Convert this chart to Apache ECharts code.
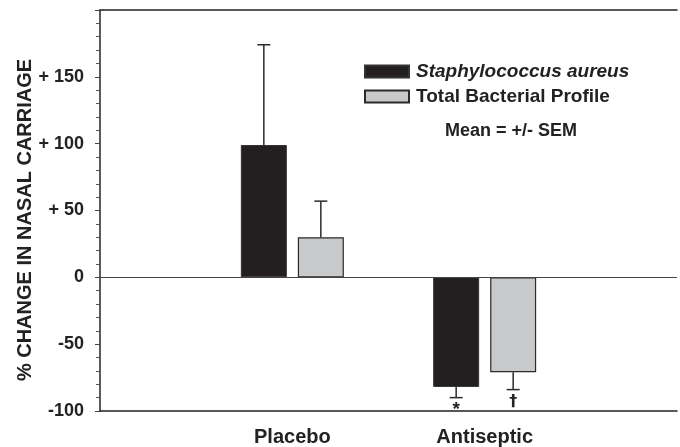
<!DOCTYPE html>
<html>
<head>
<meta charset="utf-8">
<script src="https://cdn.jsdelivr.net/npm/echarts@6/dist/echarts.min.js"></script>
<style>html,body{margin:0;padding:0;background:#fff;}#c{width:680px;height:447px;}</style>
</head>
<body>
<div id="c"></div>
<script>
var categories = ['', 'Placebo', 'Antiseptic', ''];
var staphValues = ['-', 99, -82, '-'];
var totalValues = ['-', 30, -71, '-'];
var staphErrEnd = [null, 174, -90, null];
var totalErrEnd = [null, 57, -84, null];
var staphMarks = ['', '', '*', ''];
var totalMarks = ['', '', '\u2020', ''];
var yTicks = [-100, -50, 0, 50, 100, 150];

var FONT = 'Liberation Sans, Arial, sans-serif';
var BAR_W = 46, BAR_GAP = 11;
var OFFSET = (BAR_W + BAR_GAP) / 2;

function errSeries(name, ends, marks, dx, baseVals) {
  return {
    type: 'custom', name: name + '_err', silent: true, z: 5,
    data: ends.map(function (v, i) { return v == null ? null : [i, v]; }).filter(function (d) { return d; }),
    renderItem: function (params, api) {
      var i = api.value(0), v = api.value(1);
      var p0 = api.coord([i, baseVals[i]]);
      var p1 = api.coord([i, v]);
      var x = p0[0] + dx;
      var children = [
        { type: 'line', shape: { x1: x, y1: p0[1], x2: x, y2: p1[1] }, style: { stroke: '#2a2a2a', lineWidth: 1.5 } },
        { type: 'line', shape: { x1: x - 6.5, y1: p1[1], x2: x + 6.5, y2: p1[1] }, style: { stroke: '#2a2a2a', lineWidth: 1.5 } }
      ];
      var m = marks[i];
      if (m === '*') {
        children.push({ type: 'text', x: x, y: p1[1] + 3, style: { text: m, font: 'bold 19px ' + FONT, fill: '#222', align: 'center', verticalAlign: 'top' } });
      } else if (m) {
        children.push({ type: 'text', x: x, y: p1[1] + 12, style: { text: m, font: 'bold 16px "DejaVu Sans", sans-serif', fill: '#222', align: 'center', verticalAlign: 'middle' } });
      }
      return { type: 'group', children: children };
    }
  };
}

var chart = echarts.init(document.getElementById('c'), null, { renderer: 'canvas' });
chart.setOption({
  animation: false,
  backgroundColor: '#fff',
  grid: { left: 100, right: 0, top: 10, bottom: 36 },
  legend: {
    orient: 'vertical', left: 359, top: 57, itemWidth: 44, itemHeight: 12, itemGap: 6,
    selectedMode: false, icon: 'rect',
    data: ['Staphylococcus aureus', 'Total Bacterial Profile'],
    formatter: function (n) { return n === 'Staphylococcus aureus' ? '{i|' + n + '}' : n; },
    textStyle: {
      fontFamily: FONT, fontWeight: 'bold', fontSize: 19, color: '#222', padding: [0, 0, 0, 2],
      rich: { i: { fontStyle: 'italic', fontWeight: 'bold', fontSize: 19, fontFamily: FONT, color: '#222' } }
    }
  },
  graphic: [{
    type: 'text', x: 511, y: 131,
    style: { text: 'Mean = +/- SEM', font: 'bold 18px ' + FONT, fill: '#222', align: 'center', verticalAlign: 'middle' }
  }, {
    type: 'text', x: 25, y: 220, rotation: Math.PI / 2,
    style: { text: '% CHANGE IN NASAL CARRIAGE', font: 'bold 20px ' + FONT, fill: '#222', align: 'center', verticalAlign: 'middle' }
  }],
  xAxis: [{
    type: 'category', data: categories, boundaryGap: false,
    axisLine: { onZero: false, lineStyle: { color: '#222', width: 1.5 } },
    axisTick: { show: false },
    axisLabel: { margin: 16, fontFamily: FONT, fontWeight: 'bold', fontSize: 20, color: '#222', interval: 0 }
  }, {
    type: 'category', data: categories, boundaryGap: false, position: 'top',
    axisLine: { onZero: false, lineStyle: { color: '#222', width: 1.5 } },
    axisTick: { show: false }, axisLabel: { show: false }
  }],
  yAxis: {
    type: 'value', min: -100, max: 200, interval: 50,
    axisLine: { show: true, lineStyle: { color: '#222', width: 1.5 } },
    axisTick: { show: true, length: 5, lineStyle: { color: '#444' } },
    minorTick: { show: true, splitNumber: 5, length: 4, lineStyle: { color: '#555' } },
    splitLine: { show: false },
    axisLabel: {
      margin: 16, fontFamily: FONT, fontWeight: 'bold', fontSize: 18, color: '#222',
      formatter: function (v) {
        if (yTicks.indexOf(v) < 0) return '';
        return v > 0 ? '+ ' + v : String(v);
      }
    }
  },
  series: [{
    name: 'Staphylococcus aureus', type: 'bar', data: staphValues,
    barWidth: BAR_W, barGap: (BAR_GAP / BAR_W * 100) + '%',
    itemStyle: { color: '#231f20', borderColor: '#333', borderWidth: 1 },
    markLine: {
      silent: true, symbol: 'none', label: { show: false },
      lineStyle: { color: '#444', width: 1.2, type: 'solid' },
      data: [{ yAxis: 0 }]
    }
  }, {
    name: 'Total Bacterial Profile', type: 'bar', data: totalValues,
    barWidth: BAR_W,
    itemStyle: { color: '#c8c9cb', borderColor: '#2a2a2a', borderWidth: 1.2 }
  },
  errSeries('staph', staphErrEnd, staphMarks, -OFFSET, staphValues),
  errSeries('total', totalErrEnd, totalMarks, OFFSET, totalValues)
  ]
});
</script>
</body>
</html>
